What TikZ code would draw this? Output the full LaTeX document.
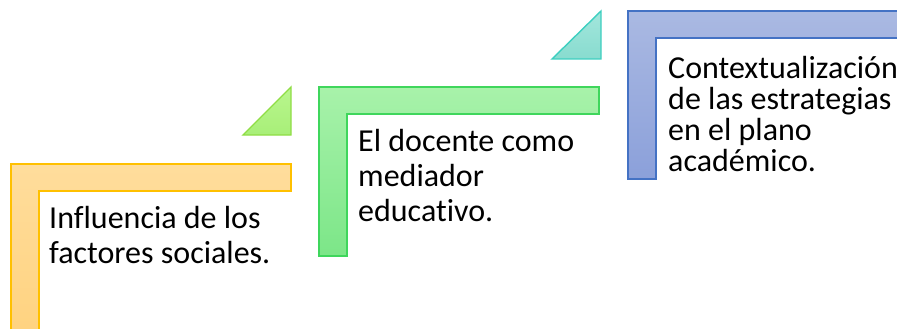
\documentclass[tikz,border=0pt]{standalone}
\usepackage{fontspec}
\setmainfont{Carlito}[Ligatures=NoCommon]
\begin{document}
\begin{tikzpicture}[x=1pt,y=-1pt,
  shp/.style={line width=1.4pt, line join=miter},
  txt/.style={align=left, inner sep=0pt, anchor=base west, font=\fontsize{32}{35}\selectfont},
  txtb/.style={align=left, inner sep=0pt, anchor=base west, font=\fontsize{32}{30.7}\selectfont}]
\useasboundingbox (0,0) rectangle (897,329);
\definecolor{obd}{HTML}{FFC000}\definecolor{ot}{HTML}{FFDD9C}\definecolor{ob}{HTML}{FFD27E}
\definecolor{gtbd}{HTML}{8FDD45}\definecolor{gtt}{HTML}{B9F68E}\definecolor{gtb}{HTML}{A8EF78}
\definecolor{gbd}{HTML}{3FD65C}\definecolor{gt}{HTML}{A8F2AA}\definecolor{gb}{HTML}{7CE688}
\definecolor{tbd}{HTML}{3DCFC0}\definecolor{tt}{HTML}{A3E6DC}\definecolor{tb}{HTML}{88DCCF}
\definecolor{bbd}{HTML}{4472C4}\definecolor{bt}{HTML}{AAB9E2}\definecolor{bb}{HTML}{8BA0DA}
% orange L
\draw[shp, draw=obd, top color=ot, bottom color=ob]
  (11,164) -- (291,164) -- (291,191) -- (39,191) -- (39,345) -- (11,345) -- cycle;
% green triangle
\draw[shp, draw=gtbd, top color=gtt, bottom color=gtb]
  (243,135) -- (291,87) -- (291,135) -- cycle;
% green L
\draw[shp, draw=gbd, top color=gt, bottom color=gb]
  (319,87) -- (599,87) -- (599,114) -- (347,114) -- (347,256) -- (319,256) -- cycle;
% teal triangle
\draw[shp, draw=tbd, top color=tt, bottom color=tb]
  (552,59) -- (601,11) -- (601,59) -- cycle;
% blue L
\draw[shp, draw=bbd, top color=bt, bottom color=bb]
  (628,11) -- (915,11) -- (915,38) -- (656,38) -- (656,179) -- (628,179) -- cycle;
% texts (anchored at the baseline of the last line)
\node[txt] (t1) at (49,263) {Influencia de los\\factores sociales.};
\node[txt] (t2) at (358,221) {El docente como\\mediador\\educativo.};
\node[txtb] (t3) at (668,171) {Contextualización\\de las estrategias\\en el plano\\académico.};
\end{tikzpicture}
\end{document}
